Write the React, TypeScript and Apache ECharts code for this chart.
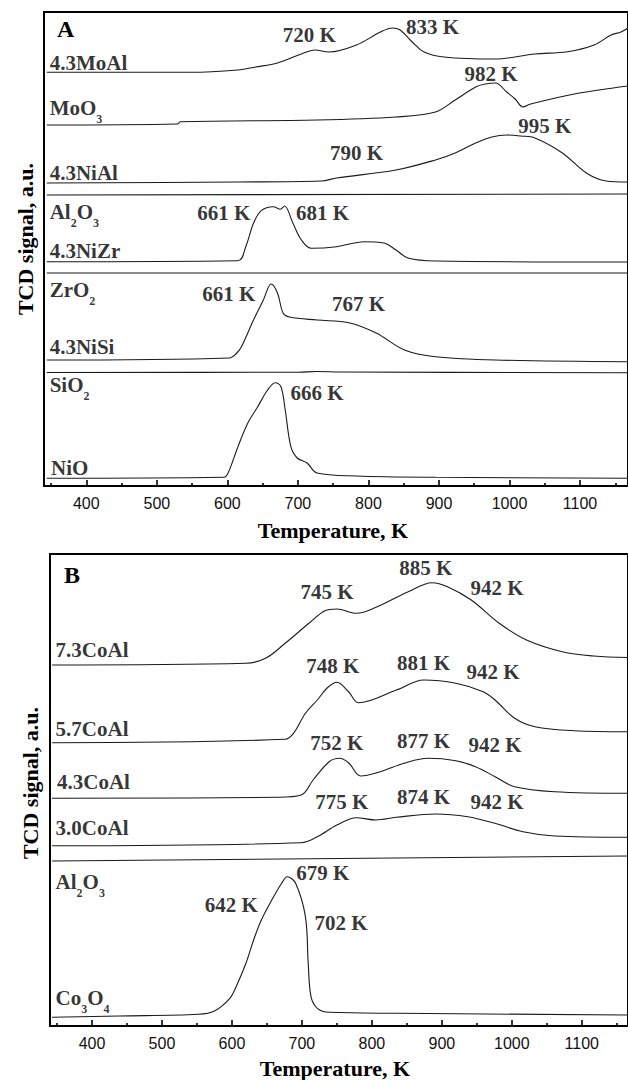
import React, { useEffect, useRef } from "react";
import * as echarts from "echarts";

type Pt = [number, number];
type Lbl = [number, number, string];

// ---------- Panel A: TPR curves (temperature K, stacked TCD signal a.u.) ----------
const aMoAl: Pt[] = [[344,413.7],[547,413.7],[615,416],[640,419],[671,423],[705,432],[724,436],[744,434],[783,441],[817,454],[834,458],[845,456],[862,444],[879,434],[907,429],[980,427],[1036,432],[1082,434.3],[1120,441],[1144,451],[1158,454],[1168,458]];
const aMoO3: Pt[] = [[344,361],[530,362],[533,364.3],[727,366],[839,369],[895,374],[923,386],[952,399],[966,402],[980,403],[996,394],[1008,387],[1019,379],[1030,382],[1092,392],[1168,400]];
const aNiAl: Pt[] = [[344,303],[615,304],[733,305],[755,308],[839,316],[895,326],[923,333],[952,343],[975,349],[996,351],[1016,350],[1036,348],[1075,333],[1109,313],[1137,305],[1168,304]];
const aAl2O3: Pt[] = [[344,291],[1168,292]];
const aNiZr: Pt[] = [[344,224.3],[615,225.3],[626,239.3],[637,262.7],[648,275.3],[665,279.3],[675,276.7],[681,280],[693,262.7],[705,246],[719,237.7],[755,239.3],[794,244.3],[822,243],[839,236],[856,228],[895,225],[1168,224]];
const aZrO2: Pt[] = [[344,213],[1168,213]];
const aNiSi: Pt[] = [[344,126],[603,128],[612,132],[620,139.3],[637,166],[651,186],[662,202],[671,193],[679,173],[688,169],[727,166],[772,163.3],[811,153],[851,136],[895,129.3],[980,126],[1168,124.3]];
const aSiO2: Pt[] = [[344,113.5],[700,113.8],[727,114.5],[760,114],[1168,113.3]];
const aNiO: Pt[] = [[344,7.7],[595,8.7],[601,13],[615,39.3],[629,63],[643,79.3],[657,96],[668,103.3],[676,99.3],[682,76],[690,39.3],[699,28],[713,23],[727,13],[783,10],[895,8.7],[1168,7.7]];

// ---------- Panel B ----------
const b73CoAl: Pt[] = [[343,361],[620,362.7],[648,367.7],[676,382.7],[710,402.7],[733,415.3],[750,417],[778,412.7],[806,418.7],[852,434.3],[886,443.3],[908,439.3],[942,426],[982,402.7],[1021,386],[1072,374.3],[1117,370],[1166,368.5]];
const b57CoAl: Pt[] = [[343,283.3],[676,286.7],[688,292.7],[705,312.7],[722,326],[736,338],[750,343.7],[767,334],[781,323.3],[835,336],[874,346],[920,342.7],[959,334.3],[976,326],[1004,307.7],[1033,299.3],[1089,295.3],[1166,294.3]];
const b43CoAl: Pt[] = [[343,227.7],[665,228.7],[699,231],[716,246],[739,264.3],[754,267.7],[767,263],[784,250],[812,254.3],[846,262.7],[880,267.7],[920,265.3],[948,259.3],[976,249.3],[1004,239.3],[1061,234.3],[1166,232.7]];
const b30CoAl: Pt[] = [[343,180.3],[699,183.3],[722,189.3],[750,201],[778,208.3],[806,206],[835,208.7],[891,212],[937,209.3],[976,202.7],[1016,194.3],[1061,190],[1166,188.7]];
const bAl2O3: Pt[] = [[343,165],[1166,170]];
const bCo3O4: Pt[] = [[343,8.7],[439,10],[552,11.7],[575,15],[597,27.7],[606,39.3],[620,62.7],[631,86],[642,106],[657,126],[671,142.7],[679,149.3],[691,142.7],[705,109.3],[709,62.7],[713,29.3],[722,17.7],[739,13.7],[835,12.7],[1166,11]];

// ---------- Labels ----------
const aSampleLabels: Lbl[] = [[348,423,"4.3MoAl"],[348,378,"MoO{s|3}"],[348,313,"4.3NiAl"],[348,274,"Al{s|2}O{s|3}"],[348,235,"4.3NiZr"],[348,196,"ZrO{s|2}"],[348,139,"4.3NiSi"],[348,101,"SiO{s|2}"],[350,18,"NiO"]];
const aPeakLabels: Lbl[] = [[716,451,"720 K"],[891,459,"833 K"],[974,412,"982 K"],[1050,360,"995 K"],[783,333,"790 K"],[595,273,"661 K"],[735,273,"681 K"],[602,192,"661 K"],[786,182,"767 K"],[727,93,"666 K"]];
const bSampleLabels: Lbl[] = [[348,376,"7.3CoAl"],[348,296.7,"5.7CoAl"],[350,244.3,"4.3CoAl"],[348,197.7,"3.0CoAl"],[348,144.3,"Al{s|2}O{s|3}"],[348,27.7,"Co{s|3}O{s|4}"]];
const bPeakLabels: Lbl[] = [[877,458,"885 K"],[736,434.3,"745 K"],[979,438,"942 K"],[744,360,"748 K"],[874,363.3,"881 K"],[973,354.3,"942 K"],[750,283,"752 K"],[874,285.3,"877 K"],[976,281,"942 K"],[757,224.3,"775 K"],[874,229.3,"874 K"],[979,224.3,"942 K"],[730,152.7,"679 K"],[599,121,"642 K"],[756,102.7,"702 K"]];

const majorTicks = [400, 500, 600, 700, 800, 900, 1000, 1100];
const minorTicks = [350, 450, 550, 650, 750, 850, 950, 1050, 1150];

const SERIF = "'Liberation Serif', 'Times New Roman', serif";
const SANS = "'Liberation Sans', Arial, sans-serif";
const INK = "#1a1a1a";

const richStyles = {
  s: { fontFamily: SERIF, fontWeight: "bold", fontSize: 12, color: "#000", lineHeight: 12, verticalAlign: "bottom" },
};

function curve(data: Pt[], xi: number, yi: number) {
  return {
    type: "line", xAxisIndex: xi, yAxisIndex: yi, data, showSymbol: false, symbol: "none",
    smooth: 0.35, lineStyle: { color: INK, width: 1.1 }, silent: true, clip: true,
  };
}

function labels(items: Lbl[], xi: number, yi: number, left: boolean) {
  return {
    type: "scatter", xAxisIndex: xi, yAxisIndex: yi, symbolSize: 0, silent: true,
    itemStyle: { color: "transparent" },
    data: items.map(([t, v, text]) => ({ value: [t, v], name: text })),
    label: {
      show: true, position: left ? "right" : "inside", distance: 0,
      formatter: (p: any) => p.name,
      fontFamily: SERIF, fontWeight: "bold", fontSize: 21, color: "#000", lineHeight: 34,
      textBorderWidth: 0, rich: richStyles,
    },
  };
}

function xAxes(grid: number, max: number) {
  const base = { type: "value", gridIndex: grid, min: 340, max, position: "bottom", splitLine: { show: false } };
  return [
    { ...base, axisLine: { show: true, lineStyle: { color: "#000", width: 2 } },
      axisTick: { show: true, inside: true, length: 6, customValues: majorTicks, lineStyle: { color: "#000", width: 1.6 } },
      axisLabel: { show: true, customValues: majorTicks, formatter: (v: number) => String(v), fontFamily: SANS, fontSize: 16, color: "#111", margin: 9 } },
    { ...base, axisLine: { show: false },
      axisTick: { show: true, inside: true, length: 3, customValues: minorTicks, lineStyle: { color: "#000", width: 1.6 } },
      axisLabel: { show: false } },
  ];
}

export default function App() {
  const ref = useRef<HTMLDivElement>(null);
  useEffect(() => {
    if (!ref.current) return;
    const chart = echarts.init(ref.current, null, { renderer: "svg" });
    const titleFont = `bold 22px ${SERIF}`;
    chart.setOption({
      animation: false,
      backgroundColor: "#fff",
      grid: [
        { left: 44, top: 12, right: -6, height: 474, show: true, borderColor: "#000", borderWidth: 2, backgroundColor: "transparent" },
        { left: 50, top: 554, right: -6, height: 472, show: true, borderColor: "#000", borderWidth: 2, backgroundColor: "transparent" },
      ],
      xAxis: [...xAxes(0, 1168), ...xAxes(1, 1166)],
      yAxis: [
        { type: "value", gridIndex: 0, min: 0, max: 474, show: false },
        { type: "value", gridIndex: 1, min: 0, max: 472, show: false },
      ],
      series: [
        curve(aMoAl, 0, 0), curve(aMoO3, 0, 0), curve(aNiAl, 0, 0), curve(aAl2O3, 0, 0),
        curve(aNiZr, 0, 0), curve(aZrO2, 0, 0), curve(aNiSi, 0, 0), curve(aSiO2, 0, 0), curve(aNiO, 0, 0),
        curve(b73CoAl, 2, 1), curve(b57CoAl, 2, 1), curve(b43CoAl, 2, 1), curve(b30CoAl, 2, 1),
        curve(bAl2O3, 2, 1), curve(bCo3O4, 2, 1),
        labels(aSampleLabels, 0, 0, true), labels(aPeakLabels, 0, 0, false),
        labels(bSampleLabels, 2, 1, true), labels(bPeakLabels, 2, 1, false),
      ],
      graphic: [
        { type: "text", x: 57, y: 29, style: { text: "A", font: `bold 24px ${SERIF}`, fill: "#000", textAlign: "left", textVerticalAlign: "middle" } },
        { type: "text", x: 64, y: 575, style: { text: "B", font: `bold 24px ${SERIF}`, fill: "#000", textAlign: "left", textVerticalAlign: "middle" } },
        { type: "text", x: 333, y: 530, style: { text: "Temperature, K", font: titleFont, fill: "#000", textAlign: "center", textVerticalAlign: "middle" } },
        { type: "text", x: 335, y: 1068, style: { text: "Temperature, K", font: titleFont, fill: "#000", textAlign: "center", textVerticalAlign: "middle" } },
        { type: "text", x: 25, y: 239, rotation: Math.PI / 2, style: { text: "TCD signal, a.u.", font: titleFont, fill: "#000", textAlign: "center", textVerticalAlign: "middle" } },
        { type: "text", x: 30, y: 783, rotation: Math.PI / 2, style: { text: "TCD signal, a.u.", font: titleFont, fill: "#000", textAlign: "center", textVerticalAlign: "middle" } },
      ],
    });
    return () => chart.dispose();
  }, []);
  return <div ref={ref} style={{ position: "fixed", left: 0, top: 0, width: 628, height: 1080 }} />;
}
